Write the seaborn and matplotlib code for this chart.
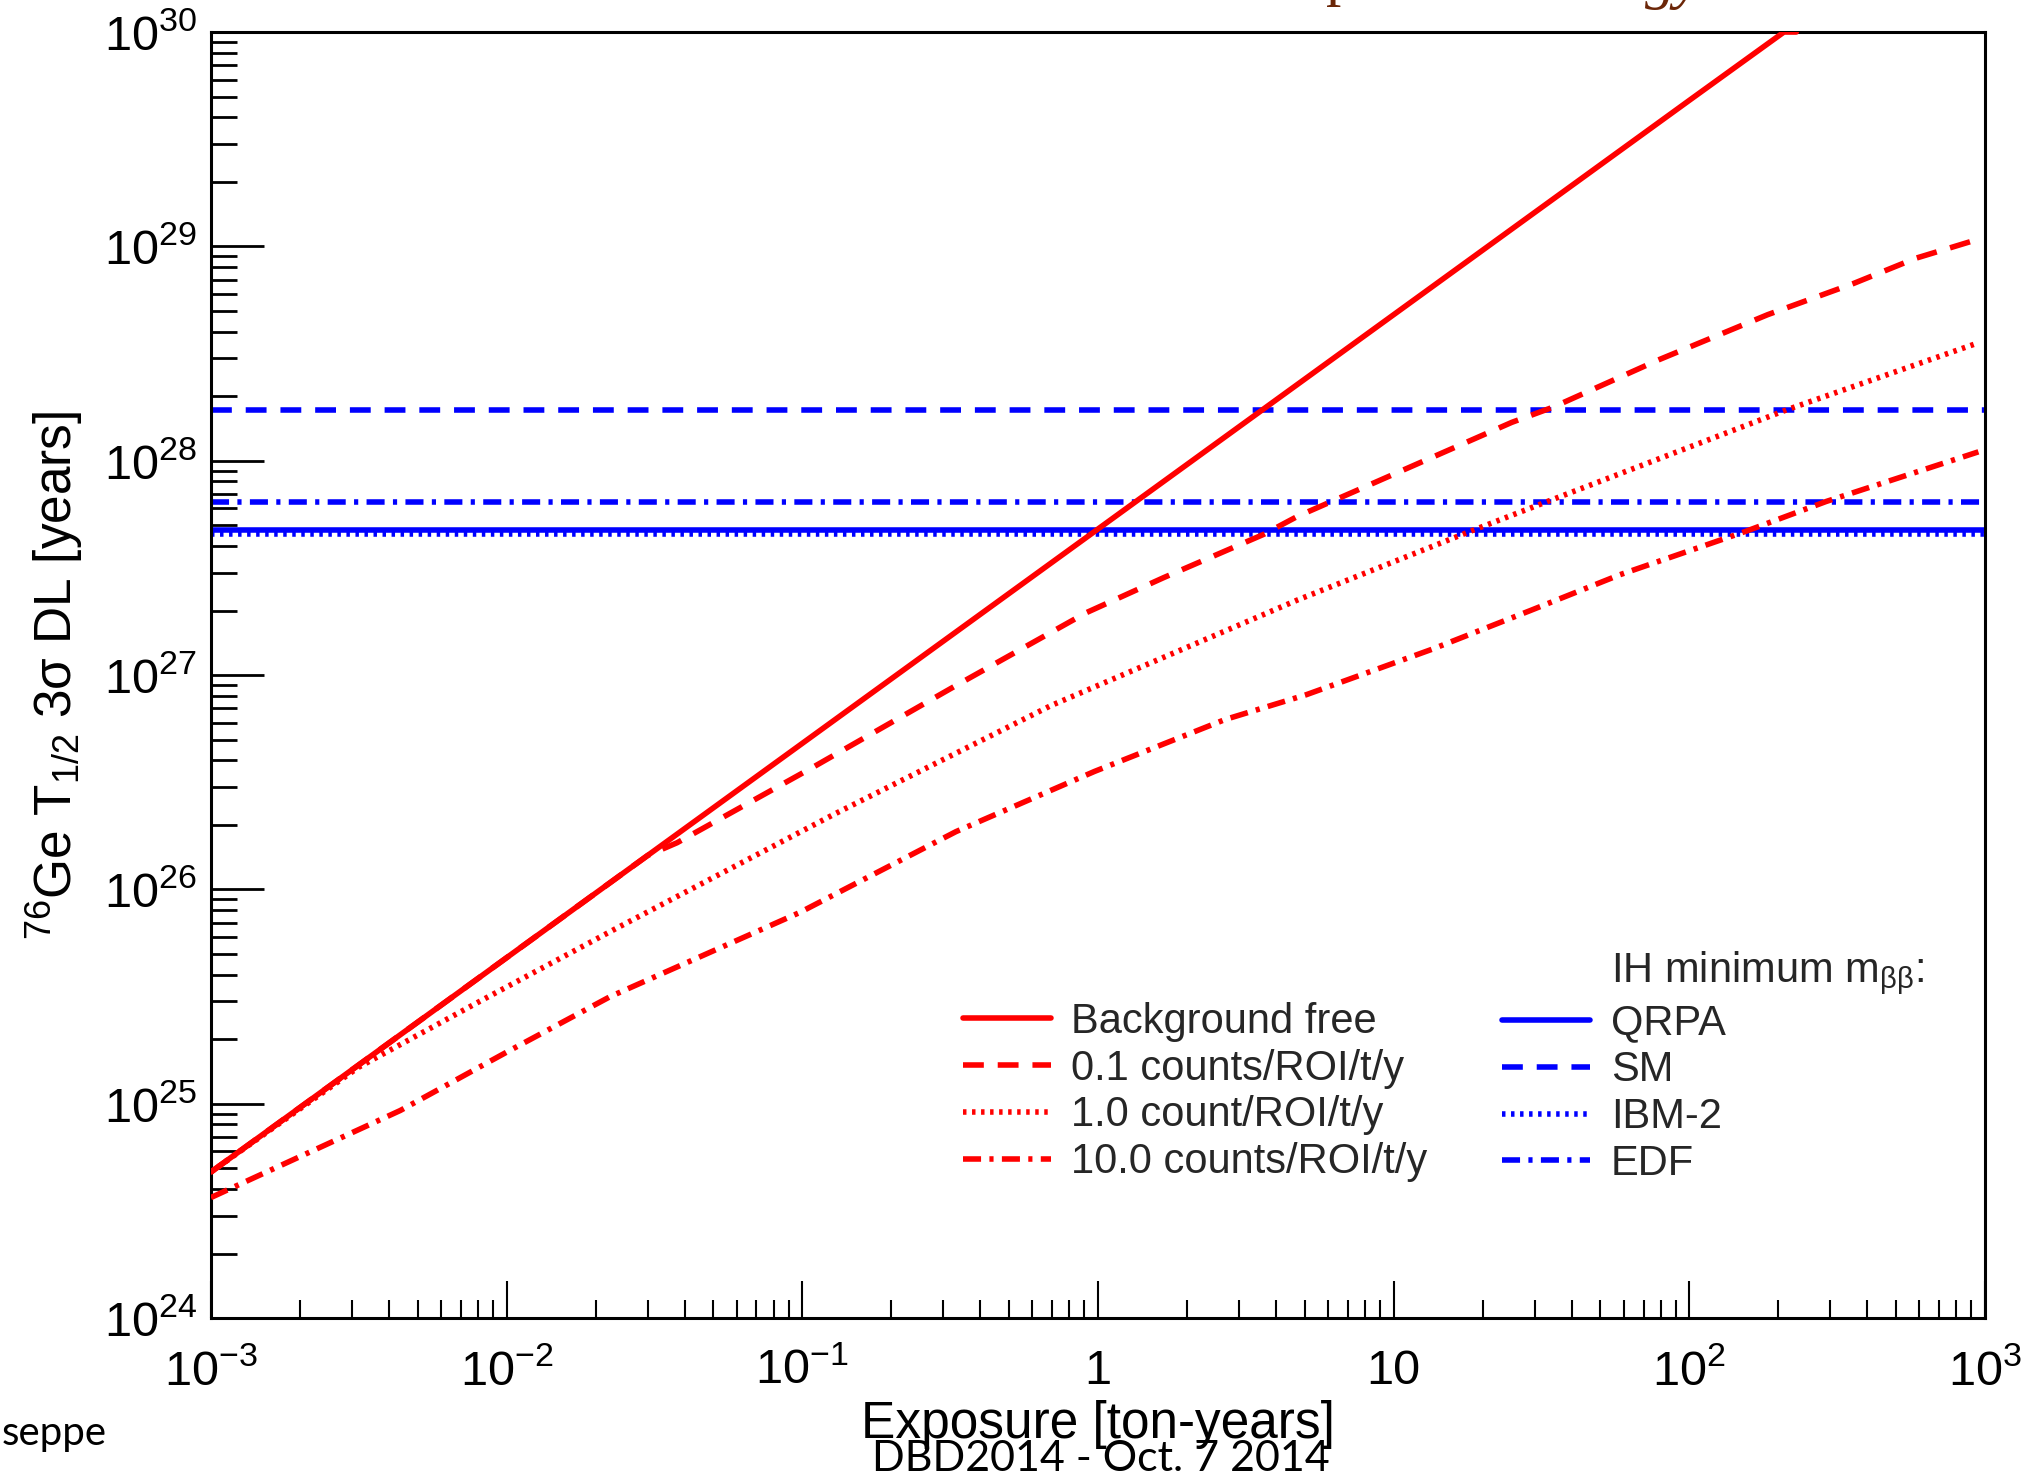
import numpy as np
import pandas as pd
import matplotlib
matplotlib.use("Agg")
import matplotlib.pyplot as plt
import seaborn as sns
from matplotlib.lines import Line2D
from matplotlib.ticker import LogLocator, FuncFormatter, NullFormatter

# ---------------- data ----------------
bf_exposure = [1e-3, 1e-2, 1e-1, 1.0, 10.0, 100.0, 209.0, 230.0]
bf_halflife = [4.8e24, 4.8e25, 4.8e26, 4.8e27, 4.8e28, 4.8e29, 1.0e30, 1.0e30]

b01_exposure = [1e-3, 1e-2, 0.03, 0.0377, 0.11, 0.32, 0.91, 1.67, 3.63, 4.73, 8.26,
                25.1, 34.7, 78.5, 184.0, 358.0, 583.0, 950.0]
b01_halflife = [4.8e24, 4.8e25, 1.44e26, 1.65e26, 3.75e26, 8.7e26, 1.95e27, 2.85e27, 4.53e27,
                5.5e27, 7.7e27, 1.51e28, 1.78e28, 2.95e28, 4.8e28, 6.7e28, 8.8e28, 1.08e29]

b1_exposure = [1e-3, 3.16e-3, 8.1e-3, 0.0236, 0.128, 0.693, 4.73, 18.5, 33.1, 214.0, 950.0]
b1_halflife = [4.8e24, 1.48e25, 3.0e25, 6.6e25, 2.24e26, 7.2e26, 2.24e27, 4.73e27,
               6.45e27, 1.73e28, 3.55e28]

b10_exposure = [1e-3, 4.37e-3, 0.01, 0.0224, 0.098, 0.331, 0.973, 2.69, 5.07, 13.5,
                29.0, 58.3, 155.0, 290.0, 950.0]
b10_halflife = [3.65e24, 9.3e24, 1.74e25, 3.16e25, 7.8e25, 1.86e26, 3.55e26, 6.2e26,
                8.1e26, 1.32e27, 2.0e27, 2.94e27, 4.68e27, 6.45e27, 1.1e28]

bkg_labels = ["Background free", "0.1 counts/ROI/t/y", "1.0 count/ROI/t/y",
              "10.0 counts/ROI/t/y"]
ih_models = ["QRPA", "SM", "IBM-2", "EDF"]
ih_halflife = [4.75e27, 1.73e28, 4.55e27, 6.45e27]

x_range = [1e-3, 1e3]
y_range = [1e24, 1e30]

# ---------------- style ----------------
sns.set_theme(style="white")
plt.rcParams["font.family"] = ["Liberation Sans", "DejaVu Sans"]
plt.rcParams["mathtext.fontset"] = "custom"
plt.rcParams["mathtext.rm"] = "Liberation Sans"
plt.rcParams["mathtext.it"] = "Liberation Sans"
plt.rcParams["mathtext.bf"] = "Liberation Sans:bold"
plt.rcParams["lines.scale_dashes"] = False
plt.rcParams["axes.edgecolor"] = "black"
plt.rcParams["axes.linewidth"] = 2.2

LW = 4.0
styles = {
    "solid": "-",
    "dashed": (0, (15, 10)),
    "dotted": (0, (2.5, 4)),
    "dashdot": (0, (13, 6, 3, 6)),
}
red_styles = ["solid", "dashed", "dotted", "dashdot"]
blue_styles = ["solid", "dashed", "dotted", "dashdot"]

fig = plt.figure(figsize=(20.28, 14.76), dpi=100)
ax = fig.add_axes([0.1040, 0.1070, 0.8748, 0.8713])

red_series = [(bf_exposure, bf_halflife), (b01_exposure, b01_halflife),
              (b1_exposure, b1_halflife), (b10_exposure, b10_halflife)]

# blue horizontal lines (IH minimum)
for val, st in zip(ih_halflife, blue_styles):
    ax.axhline(val, color="#0000ff", lw=LW, linestyle=styles[st], zorder=2)

# red curves
for (xs, ys), st in zip(red_series, red_styles):
    df = pd.DataFrame({"exposure": xs, "halflife": ys})
    sns.lineplot(data=df, x="exposure", y="halflife", ax=ax, color="#ff0000",
                 linewidth=LW, linestyle=styles[st], errorbar=None, sort=False,
                 legend=False, zorder=3)

ax.set_xscale("log")
ax.set_yscale("log")
ax.set_xlim(x_range)
ax.set_ylim(y_range)

# ticks
def xfmt(v, pos):
    e = int(round(np.log10(v)))
    if e == 0:
        return "1"
    if e == 1:
        return "10"
    return r"$\mathregular{10^{%d}}$" % e

def yfmt(v, pos):
    e = int(round(np.log10(v)))
    return r"$\mathregular{10^{%d}}$" % e

ax.xaxis.set_major_locator(LogLocator(base=10, numticks=20))
ax.xaxis.set_minor_locator(LogLocator(base=10, subs=np.arange(2, 10), numticks=100))
ax.yaxis.set_major_locator(LogLocator(base=10, numticks=20))
ax.yaxis.set_minor_locator(LogLocator(base=10, subs=np.arange(2, 10), numticks=100))
ax.xaxis.set_major_formatter(FuncFormatter(xfmt))
ax.yaxis.set_major_formatter(FuncFormatter(yfmt))
ax.xaxis.set_minor_formatter(NullFormatter())
ax.yaxis.set_minor_formatter(NullFormatter())

ax.tick_params(axis="both", which="both", direction="in", top=False, right=False,
               bottom=True, left=True, color="black", labelcolor="black")
ax.tick_params(axis="x", which="major", length=27, width=1.5, pad=22, labelsize=35)
ax.tick_params(axis="x", which="minor", length=13, width=1.5)
ax.tick_params(axis="y", which="major", length=38, width=2.0, pad=10, labelsize=35)
ax.tick_params(axis="y", which="minor", length=19, width=2.0)

for s in ax.spines.values():
    s.set_visible(True)
    s.set_color("black")
    s.set_linewidth(2.2)

ax.set_xlabel("Exposure [ton-years]", fontsize=37, color="black")
ax.xaxis.set_label_coords(0.5, -0.064)
ax.xaxis.label.set_va("top")
ax.set_ylabel(r"$^{76}$Ge T$_{1/2}$ 3$\sigma$ DL [years]", fontsize=37, color="black")
ax.yaxis.label.set_va("center")
ax.yaxis.set_label_coords(-0.088, 0.5)

# legends
red_handles = [Line2D([], [], color="#ff0000", lw=LW, linestyle=styles[s]) for s in red_styles]
blue_handles = [Line2D([], [], color="#0000ff", lw=LW, linestyle=styles[s]) for s in blue_styles]
blank = Line2D([], [], color="none", lw=0)

leg_kw = dict(frameon=False, fontsize=30, handlelength=2.1, handletextpad=0.5,
              labelspacing=0.165, borderpad=0, borderaxespad=0, loc="upper left")
leg1 = ax.legend(red_handles, bkg_labels, bbox_to_anchor=(0.424, 0.246), **leg_kw)
ax.add_artist(leg1)
leg2 = ax.legend([blank] + blue_handles, [r"IH minimum m$_{\beta\beta}$:"] + ih_models,
                 bbox_to_anchor=(0.728, 0.287), **leg_kw)

# slide fragments around the plot
fig.text(0.654, 1.004, "p", family="Liberation Serif", fontsize=44, color="#6b2608",
         va="baseline", ha="left")
fig.text(0.811, 1.002, "gy", family="Liberation Serif", fontsize=44, color="#6b2608",
         va="baseline", ha="left", style="italic")
fig.text(0.001, 0.021, "seppe", family="Lato", fontsize=29, color="black",
         va="baseline", ha="left")
fig.text(0.5427, 0.0034, "DBD2014 - Oct. 7 2014", family="Lato", fontsize=31,
         color="black", va="baseline", ha="center")

fig.savefig("out.png", dpi=100, facecolor="white")
